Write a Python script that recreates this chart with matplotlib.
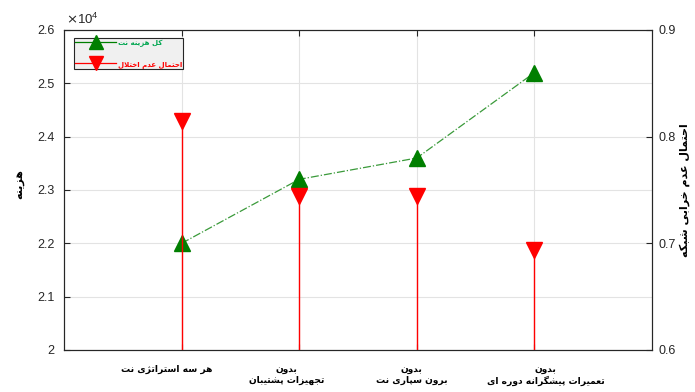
import matplotlib
matplotlib.use("Agg")
import matplotlib.pyplot as plt
from matplotlib.lines import Line2D
from matplotlib.ticker import FuncFormatter, FixedLocator
from matplotlib.transforms import ScaledTranslation

# ---- data ----
categories = [
    "هر سه استراتژی نت",
    "بدون\nتجهیزات پشتیبان",
    "بدون\nبرون سپاری نت",
    "بدون\nتعمیرات پیشگرانه دوره ای",
]
total_cost = [22000, 23200, 23600, 25200]
reliability = [0.815, 0.744, 0.744, 0.694]
cost_ticks = [20000, 21000, 22000, 23000, 24000, 25000, 26000]
rel_ticks = [0.6, 0.7, 0.8, 0.9]
cost_label = "هزینه"
rel_label = "احتمال عدم خرابی شبکه"
legend_labels = ["کل هزینه نت", "احتمال عدم اختلال"]

# ---- minimal Persian shaping (presentation forms + visual order) ----
# (isolated, final, initial, medial); None = letter does not join forward
FORMS = {
    "ا": ("\uFE8D", "\uFE8E", None, None),
    "ب": ("\uFE8F", "\uFE90", "\uFE91", "\uFE92"),
    "پ": ("\uFB56", "\uFB57", "\uFB58", "\uFB59"),
    "ت": ("\uFE95", "\uFE96", "\uFE97", "\uFE98"),
    "ج": ("\uFE9D", "\uFE9E", "\uFE9F", "\uFEA0"),
    "ح": ("\uFEA1", "\uFEA2", "\uFEA3", "\uFEA4"),
    "خ": ("\uFEA5", "\uFEA6", "\uFEA7", "\uFEA8"),
    "د": ("\uFEA9", "\uFEAA", None, None),
    "ر": ("\uFEAD", "\uFEAE", None, None),
    "ز": ("\uFEAF", "\uFEB0", None, None),
    "ژ": ("\uFB8A", "\uFB8B", None, None),
    "س": ("\uFEB1", "\uFEB2", "\uFEB3", "\uFEB4"),
    "ش": ("\uFEB5", "\uFEB6", "\uFEB7", "\uFEB8"),
    "ع": ("\uFEC9", "\uFECA", "\uFECB", "\uFECC"),
    "ک": ("\uFB8E", "\uFB8F", "\uFB90", "\uFB91"),
    "گ": ("\uFB92", "\uFB93", "\uFB94", "\uFB95"),
    "ل": ("\uFEDD", "\uFEDE", "\uFEDF", "\uFEE0"),
    "م": ("\uFEE1", "\uFEE2", "\uFEE3", "\uFEE4"),
    "ن": ("\uFEE5", "\uFEE6", "\uFEE7", "\uFEE8"),
    "ه": ("\uFEE9", "\uFEEA", "\uFEEB", "\uFEEC"),
    "و": ("\uFEED", "\uFEEE", None, None),
    "ی": ("\uFBFC", "\uFBFD", "\uFBFE", "\uFBFF"),
}


def _shape_line(s):
    tokens, i = [], 0
    while i < len(s):
        if s[i] == "ل" and i + 1 < len(s) and s[i + 1] == "ا":
            tokens.append("LA")
            i += 2
        else:
            tokens.append(s[i])
            i += 1

    def joins_forward(t):
        return t in FORMS and FORMS[t][2] is not None

    def joinable(t):
        return t == "LA" or t in FORMS

    out = []
    for k, t in enumerate(tokens):
        prev = tokens[k - 1] if k > 0 else None
        nxt = tokens[k + 1] if k + 1 < len(tokens) else None
        cp = prev is not None and joins_forward(prev) and joinable(t)
        cn = joins_forward(t) and nxt is not None and joinable(nxt)
        if t == "LA":
            out.append("\uFEFC" if cp else "\uFEFB")
        elif t not in FORMS:
            out.append(t)
        else:
            iso, fin, ini, med = FORMS[t]
            out.append(med if cp and cn else fin if cp else ini if cn else iso)
    return "".join(reversed(out))


def fa(s):
    return "\n".join(_shape_line(line) for line in s.split("\n"))


# ---- style ----
NUM_FONT = "Liberation Sans"
FA_FONT = "DejaVu Sans"
AX_COLOR = "#262626"
GRID_COLOR = "#e3e3e3"
GREEN = "#007f00"
RED = "#ff0000"

fig = plt.figure(figsize=(6.95, 3.92), dpi=100)
ax = fig.add_axes([64 / 695, 1 - 350 / 392, 588 / 695, 320 / 392])
ax2 = ax.twinx()

x = list(range(1, len(categories) + 1))

# total cost: dash-dot line with up triangles
ax.plot(x, total_cost, linestyle="-.", color="#3a9a3a", lw=0.9, zorder=3)
ax.plot(x, total_cost, linestyle="none", marker="^", ms=12,
        color=GREEN, mec=GREEN, zorder=4)

# reliability: stems from the bottom with down triangles
ax2.vlines(x, rel_ticks[0], reliability, color=RED, lw=1.0, zorder=3)
ax2.plot(x, reliability, linestyle="none", marker="v", ms=12,
         color=RED, mec=RED, zorder=4)

# axes limits and ticks
ax.set_xlim(0, 5)
ax.set_ylim(cost_ticks[0], cost_ticks[-1])
ax2.set_ylim(rel_ticks[0], rel_ticks[-1])

ax.yaxis.set_major_locator(FixedLocator(cost_ticks))
ax.yaxis.set_major_formatter(FuncFormatter(lambda v, p: f"{v / 1e4:g}"))
ax2.yaxis.set_major_locator(FixedLocator(rel_ticks))
ax2.yaxis.set_major_formatter(FuncFormatter(lambda v, p: f"{v:g}"))

# category labels below each tick (slightly offset, as in the original layout)
ax.set_xticks(x)
ax.set_xticklabels([])
label_shift_px = [-15, -13, -5, 11]
for xi, name, dx in zip(x, categories, label_shift_px):
    tr = ax.get_xaxis_transform() + ScaledTranslation(
        dx / 100, -15 / 100, fig.dpi_scale_trans)
    ax.text(xi, 0, fa(name), transform=tr, ha="center", va="top",
            multialignment="center", fontfamily=FA_FONT, fontweight="bold",
            fontsize=6.6, color="black", linespacing=1.22)

ax.grid(True, color=GRID_COLOR, lw=0.8)
ax.set_axisbelow(True)

ax.tick_params(axis="x", direction="in", length=4, top=True, color=AX_COLOR)
ax.tick_params(axis="y", direction="in", length=4, pad=7, color=AX_COLOR,
               labelcolor=AX_COLOR, labelsize=9)
ax2.tick_params(axis="y", direction="in", length=4, pad=5, color=AX_COLOR,
                labelcolor=AX_COLOR, labelsize=9)
for lab in ax.get_yticklabels() + ax2.get_yticklabels():
    lab.set_fontfamily(NUM_FONT)

for a in (ax, ax2):
    for sp in a.spines.values():
        sp.set_color(AX_COLOR)
        sp.set_linewidth(0.8)

# exponent marker for the left axis
ax.text(0.003, 1.008, r"$\times\mathregular{10^{4}}$", transform=ax.transAxes,
        ha="left", va="bottom", fontsize=9.5, color=AX_COLOR,
        fontfamily=NUM_FONT)

# axis titles
ax.set_ylabel(fa(cost_label), fontfamily=FA_FONT, fontweight="bold",
              fontsize=8, color="black")
ax.yaxis.set_label_coords(-0.068, 0.52)
ax2.set_ylabel(fa(rel_label), fontfamily=FA_FONT, fontweight="bold",
               fontsize=8, color="black", rotation=90)
ax2.yaxis.set_label_coords(1.047, 0.5)

# legend
handles = [
    Line2D([], [], linestyle="-", color=GREEN, lw=0.9, marker="^", ms=12,
           mec=GREEN),
    Line2D([], [], linestyle="-", color=RED, lw=0.9, marker="v", ms=12,
           mec=RED),
]
leg = ax.legend(handles, [fa(s) for s in legend_labels], loc="upper left",
                bbox_to_anchor=(0.017, 0.975), fancybox=False, framealpha=1,
                facecolor="#f0f0f0", edgecolor=AX_COLOR, borderpad=0.1,
                handlelength=6.0, handleheight=1.6, handletextpad=0.3,
                labelspacing=1.7, borderaxespad=0, markerscale=0.85,
                prop={"family": FA_FONT, "weight": "bold", "size": 5.0})
leg.get_frame().set_linewidth(0.8)
leg.set_zorder(10)
for txt, col in zip(leg.get_texts(), ["#00a650", RED]):
    txt.set_color(col)

fig.savefig("out.png", dpi=100)
